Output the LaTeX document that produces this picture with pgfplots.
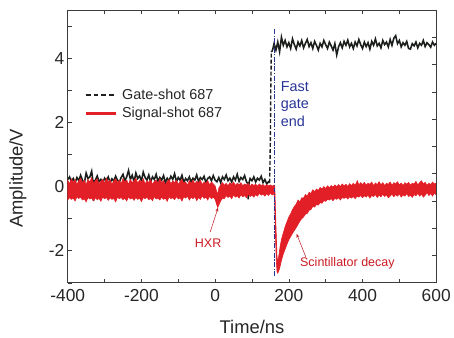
\documentclass[border=0pt]{standalone}
\usepackage{pgfplots}
\pgfplotsset{compat=1.18}
\usepackage{fontspec}
\setmainfont{Liberation Sans}
\usetikzlibrary{arrows.meta}
\definecolor{sigred}{RGB}{226,30,38}
\definecolor{gateblk}{RGB}{28,32,28}
\definecolor{gateblue}{RGB}{40,52,150}
\definecolor{axgray}{RGB}{60,60,60}
\begin{document}
\begin{tikzpicture}
\begin{axis}[
  name=ax,
  scale only axis, width=370bp, height=274bp,
  xmin=-400, xmax=600, ymin=-3, ymax=5.5,
  xtick={-400,-200,0,200,400,600},
  xticklabels={-400,-200,0,200,400,600},
  minor xtick={-300,-100,100,300,500},
  ytick={-2,0,2,4},
  yticklabels={-2,0,2,4},
  minor ytick={-3,-1,1,3,5},
  ytick pos=left,
  tick align=inside,
  major tick length=4bp, minor tick length=4bp,
  every tick/.style={axgray, line width=0.6pt},
  axis line style={axgray, line width=0.8pt},
  ticklabel style={font=\fontsize{17.5}{20}\selectfont, text=black!85},
  xticklabel style={yshift=-3bp},
  xlabel={Time/ns}, ylabel={Amplitude/V},
  label style={font=\fontsize{18.5}{22}\selectfont, text=black!85},
  xlabel style={at={(axis description cs:0.5,-0.163)}, anchor=center},
  ylabel style={at={(axis description cs:-0.135,0.383)}, anchor=center},
  clip=true,
  legend style={at={(axis description cs:0.045,0.717)}, anchor=north west, draw=none, fill=none,
    font=\fontsize{14.5}{17}\selectfont, row sep=3.5bp, column sep=3bp, inner sep=0pt,
    nodes={inner sep=1.6bp, text=black!85}},
  legend cell align=left,
]
% gate before edge
\addplot[gateblk, line width=1.6pt, forget plot] coordinates {
(-400,0.22) (-395,0.30) (-390,0.15) (-385,0.25) (-380,0.12) (-375,0.28) (-370,0.18) (-365,0.35) (-360,0.20) (-355,0.10)
(-350,0.42) (-345,0.25) (-340,0.30) (-335,0.48) (-332,0.20) (-330,-0.45) (-327,0.18) (-325,0.20) (-320,0.33) (-315,0.15) (-310,0.22) (-305,0.10)
(-300,0.26) (-295,0.18) (-290,0.30) (-285,0.12) (-280,0.24) (-275,0.16) (-270,0.32) (-265,0.20) (-260,0.14) (-255,0.28)
(-250,0.38) (-245,0.18) (-240,0.30) (-235,0.50) (-230,0.22) (-225,0.35) (-220,0.15) (-215,0.42) (-210,0.25) (-205,0.33)
(-200,0.18) (-195,0.45) (-190,0.28) (-185,0.20) (-180,0.36) (-175,0.14) (-170,0.30) (-165,0.22) (-160,0.38) (-155,0.16)
(-150,0.28) (-145,0.20) (-140,0.34) (-135,0.12) (-130,0.26) (-125,0.18) (-120,0.32) (-115,0.22) (-110,0.40) (-105,0.15)
(-100,0.28) (-95,0.20) (-90,0.35) (-85,0.12) (-80,0.25) (-75,0.18) (-70,0.30) (-65,0.14) (-60,0.26) (-55,0.20)
(-50,0.36) (-45,0.16) (-40,0.28) (-35,0.22) (-30,0.32) (-25,0.12) (-20,0.25) (-15,0.30) (-10,0.18) (-5,0.34)
(0,0.20) (5,0.15) (10,0.28) (15,0.12) (20,0.30) (25,0.22) (30,0.36) (35,0.18) (40,0.26) (45,0.14)
(50,0.30) (55,0.20) (60,0.38) (65,0.16) (70,0.28) (75,0.22) (80,0.34) (85,0.15) (88,0.10) (90,-0.40) (92,0.12) (95,0.25)
(100,0.18) (105,0.30) (110,0.14) (115,0.26) (120,0.20) (125,0.32) (130,0.12) (135,0.22) (140,0.08) (145,0.15) (148,0.12)
};
% gate after edge
\addplot[gateblk, line width=1.6pt, forget plot] coordinates {
(154,4.2) (157,4.30) (160,4.45) (165,4.25) (170,4.50) (175,4.20) (180,4.65) (185,4.40) (190,4.55) (195,4.35) (200,4.48)
(205,4.30) (210,4.60) (215,4.42) (220,4.28) (225,4.50) (230,4.38) (235,4.55) (240,4.32) (245,4.46) (250,4.58)
(255,4.36) (260,4.48) (265,4.30) (270,4.52) (275,4.40) (280,4.25) (285,4.46) (290,4.35) (295,4.55) (300,4.42)
(305,4.30) (310,4.50) (315,4.38) (320,4.25) (325,4.45) (330,4.10) (335,4.35) (340,4.48) (345,4.32) (350,4.52)
(355,4.40) (360,4.56) (365,4.35) (370,4.46) (375,4.30) (380,4.50) (385,4.38) (390,4.58) (395,4.42) (400,4.30)
(405,4.50) (410,4.36) (415,4.48) (420,4.28) (425,4.52) (430,4.40) (435,4.60) (440,4.38) (445,4.46) (450,4.32)
(455,4.55) (460,4.42) (465,4.50) (470,4.35) (475,4.58) (480,4.40) (485,4.62) (490,4.70) (495,4.45) (500,4.55)
(505,4.35) (510,4.48) (515,4.40) (520,4.52) (525,4.30) (530,4.28) (535,4.45) (540,4.38) (545,4.50) (550,4.32)
(555,4.46) (560,4.40) (565,4.55) (570,4.36) (575,4.48) (580,4.42) (585,4.34) (590,4.50) (595,4.40) (600,4.46)
};
% gate rising edge (dashed)
\addplot[gateblk, line width=1.4pt, dash pattern=on 4pt off 2pt, forget plot] coordinates {
(148,0.12) (150,1.5) (151,3.0) (152.5,4.2) (154,4.2)
};
% signal band (upper envelope forward, lower envelope back)
\addplot[fill=sigred, draw=sigred, line width=0.6pt, forget plot] coordinates {
(-400,0.20) (-395,0.08) (-390,0.24) (-385,0.12) (-380,0.22) (-375,0.06) (-370,0.18) (-365,0.26) (-360,0.10) (-355,0.20)
(-350,0.05) (-345,0.22) (-340,0.14) (-335,0.28) (-330,0.10) (-325,0.18) (-320,0.24) (-315,0.08) (-310,0.16) (-305,0.22)
(-300,0.10) (-295,0.26) (-290,0.14) (-285,0.20) (-280,0.06) (-275,0.18) (-270,0.24) (-265,0.12) (-260,0.20) (-255,0.08)
(-250,0.25) (-245,0.14) (-240,0.20) (-235,0.06) (-230,0.22) (-225,0.12) (-220,0.18) (-215,0.26) (-210,0.10) (-205,0.20)
(-200,0.14) (-195,0.24) (-190,0.08) (-185,0.18) (-180,0.12) (-175,0.22) (-170,0.06) (-165,0.16) (-160,0.20) (-155,0.10)
(-150,0.24) (-145,0.12) (-140,0.18) (-135,0.05) (-130,0.16) (-125,0.22) (-120,0.08) (-115,0.18) (-110,0.12) (-105,0.20)
(-100,0.06) (-95,0.16) (-90,0.22) (-85,0.10) (-80,0.14) (-75,0.04) (-70,0.18) (-65,0.10) (-60,0.20) (-55,0.08)
(-50,0.16) (-45,0.12) (-40,0.20) (-35,0.06) (-30,0.14) (-25,0.10) (-20,0.18) (-15,0.05) (-10,0.14) (-5,0.08)
(0,0.02) (4,-0.15) (7,-0.25) (10,-0.05) (15,0.05) (20,0.12) (25,0.04) (30,0.10) (35,0.02) (40,0.12) (45,0.06)
(50,0.14) (55,0.03) (60,0.10) (65,0.05) (70,0.12) (75,0.02) (80,0.08) (85,0.04) (90,0.10) (95,0.00) (100,0.08)
(105,0.03) (110,0.07) (115,0.01) (120,0.08) (125,0.03) (130,0.06) (135,0.0) (140,0.06) (145,0.02) (150,0.05)
(155,0.01) (160,0.04) (162,0.0)
(165,-1.2) (168,-2.2) (170,-2.35) (173,-2.15) (176,-1.9) (180,-1.65) (185,-1.45) (190,-1.25) (195,-1.1) (200,-0.95)
(205,-0.85) (210,-0.72) (215,-0.62) (220,-0.55) (225,-0.42) (230,-0.48) (235,-0.35) (240,-0.36) (245,-0.25) (250,-0.30)
(255,-0.18) (260,-0.22) (265,-0.10) (270,-0.16) (275,-0.08) (280,-0.12) (285,-0.03) (290,-0.08) (295,0.0)
(300,-0.06) (305,0.02) (310,-0.04) (315,0.03) (320,-0.02) (325,0.05) (330,-0.01) (335,0.06) (340,0.0) (345,0.08)
(350,0.02) (355,0.07) (360,0.0) (365,0.09) (370,0.03) (375,0.10) (380,0.04) (386,0.18) (390,0.05) (395,0.12)
(400,0.06) (405,0.13) (410,0.04) (415,0.10) (420,0.07) (425,0.14) (430,0.03) (435,0.11) (440,0.06) (445,0.15)
(450,0.05) (455,0.12) (460,0.03) (465,0.10) (470,0.07) (475,0.14) (480,0.04) (485,0.12) (490,0.08) (495,0.15)
(500,0.05) (505,0.11) (510,0.03) (515,0.12) (520,0.07) (525,0.13) (530,0.04) (535,0.10) (540,0.08) (545,0.16)
(550,0.05) (555,0.12) (560,0.18) (565,0.08) (570,0.13) (575,0.04) (580,0.10) (585,0.06) (590,0.14) (595,0.08) (600,0.11)
(600,-0.26) (595,-0.20) (590,-0.30) (585,-0.22) (580,-0.28) (575,-0.19) (570,-0.27) (565,-0.33) (560,-0.24) (555,-0.30)
(550,-0.21) (545,-0.29) (540,-0.25) (535,-0.34) (530,-0.27) (525,-0.31) (520,-0.22) (515,-0.30) (510,-0.26) (505,-0.33)
(500,-0.23) (495,-0.30) (490,-0.25) (485,-0.32) (480,-0.24) (475,-0.30) (470,-0.35) (465,-0.26) (460,-0.31) (455,-0.24)
(450,-0.32) (445,-0.27) (440,-0.34) (435,-0.25) (430,-0.31) (425,-0.28) (420,-0.36) (415,-0.27) (410,-0.33) (405,-0.29)
(400,-0.35) (395,-0.28) (390,-0.33) (385,-0.30) (380,-0.38) (375,-0.31) (370,-0.36) (365,-0.32) (360,-0.39) (355,-0.33)
(350,-0.37) (345,-0.34) (340,-0.42) (335,-0.35) (330,-0.40) (325,-0.37) (320,-0.44) (315,-0.38) (310,-0.42) (305,-0.40)
(300,-0.46) (295,-0.44) (290,-0.52) (285,-0.50) (280,-0.58) (275,-0.56) (270,-0.64) (265,-0.62) (260,-0.72) (255,-0.74)
(250,-0.84) (245,-0.86) (240,-0.95) (235,-1.0) (230,-1.08) (225,-1.18) (220,-1.28) (215,-1.37) (210,-1.46)
(205,-1.56) (200,-1.66) (195,-1.80) (190,-1.95) (185,-2.10) (180,-2.30) (176,-2.50) (173,-2.62) (170,-2.70)
(168,-2.65) (166,-2.3) (164,-1.6) (162,-0.6) (160,-0.22)
(155,-0.26) (150,-0.20) (145,-0.28) (140,-0.22) (135,-0.30) (130,-0.24) (125,-0.27) (120,-0.21) (115,-0.30) (110,-0.25)
(105,-0.33) (100,-0.27) (95,-0.31) (90,-0.24) (85,-0.35) (80,-0.28) (75,-0.32) (70,-0.26) (65,-0.36) (60,-0.29)
(55,-0.33) (50,-0.26) (45,-0.38) (40,-0.30) (35,-0.34) (30,-0.28) (25,-0.38) (20,-0.36) (15,-0.45) (10,-0.58)
(7,-0.65) (4,-0.55) (0,-0.40) (-5,-0.33) (-10,-0.38) (-15,-0.30) (-20,-0.42) (-25,-0.33) (-30,-0.37) (-35,-0.29)
(-40,-0.40) (-45,-0.34) (-50,-0.44) (-55,-0.31) (-60,-0.38) (-65,-0.33) (-70,-0.42) (-75,-0.30) (-80,-0.36) (-85,-0.32)
(-90,-0.45) (-95,-0.35) (-100,-0.39) (-105,-0.31) (-110,-0.41) (-115,-0.35) (-120,-0.38) (-125,-0.32) (-130,-0.46) (-135,-0.36)
(-140,-0.40) (-145,-0.33) (-150,-0.42) (-155,-0.36) (-160,-0.39) (-165,-0.31) (-170,-0.44) (-175,-0.37) (-180,-0.41) (-185,-0.33)
(-190,-0.38) (-195,-0.34) (-200,-0.47) (-205,-0.36) (-210,-0.40) (-215,-0.34) (-220,-0.43) (-225,-0.35) (-230,-0.39) (-235,-0.32)
(-240,-0.45) (-245,-0.36) (-250,-0.41) (-255,-0.34) (-260,-0.38) (-265,-0.33) (-270,-0.48) (-275,-0.37) (-280,-0.40) (-285,-0.35)
(-290,-0.43) (-295,-0.34) (-300,-0.38) (-305,-0.33) (-310,-0.46) (-315,-0.37) (-320,-0.41) (-325,-0.35) (-330,-0.44) (-335,-0.36)
(-340,-0.39) (-345,-0.34) (-350,-0.48) (-355,-0.38) (-360,-0.42) (-365,-0.33) (-370,-0.37) (-375,-0.32) (-380,-0.45) (-385,-0.36)
(-390,-0.40) (-395,-0.34) (-400,-0.42) (-400,0.20)
};
% fast gate end line
\addplot[gateblue, line width=1.1pt, dash pattern=on 5pt off 1.6pt on 1.2pt off 1.6pt, forget plot] coordinates {(160,-2.8) (160,4.95)};
% arrows
\addplot[sigred!85!black, line width=0.5pt, -{Stealth[length=4bp,width=3bp]}, forget plot] coordinates {(-13.5,-1.42) (8,-0.66)};
\addplot[sigred!85!black, line width=0.5pt, -{Stealth[length=4bp,width=3bp]}, forget plot] coordinates {(246,-2.19) (221,-1.47)};
% labels
\node[text=gateblue, anchor=north west, inner sep=0pt, align=left, font=\fontsize{14.5}{17.7}\selectfont] at (axis cs:178,3.28) {Fast\\gate\\end};
\node[text=sigred!90!black, font=\fontsize{12.6}{15}\selectfont] at (axis cs:-19,-1.76) {HXR};
\node[text=sigred!90!black, font=\fontsize{12.6}{15}\selectfont] at (axis cs:359,-2.38) {Scintillator decay};
% legend
\addlegendimage{legend image code/.code={\draw[gateblk, line width=1.4pt, dash pattern=on 5pt off 3pt] (0bp,0bp) -- (31bp,0bp);}}
\addlegendentry{Gate-shot 687}
\addlegendimage{legend image code/.code={\draw[sigred, line width=2.2pt] (0bp,0bp) -- (31bp,0bp);}}
\addlegendentry{Signal-shot 687}
\end{axis}
\begin{axis}[
  scale only axis, width=370bp, height=274bp,
  xmin=0, xmax=1, ymin=0, ymax=10,
  axis x line=none, axis y line*=right,
  ytick={1,...,9}, yticklabels={},
  tick align=inside, major tick length=4bp,
  every tick/.style={axgray, line width=0.6pt},
  axis line style={axgray, line width=0.8pt, -},
]
\end{axis}
\path[use as bounding box] ([shift={(-68bp,-55bp)}]ax.south west) rectangle ([shift={(16bp,10bp)}]ax.north east);
\end{tikzpicture}
\end{document}
